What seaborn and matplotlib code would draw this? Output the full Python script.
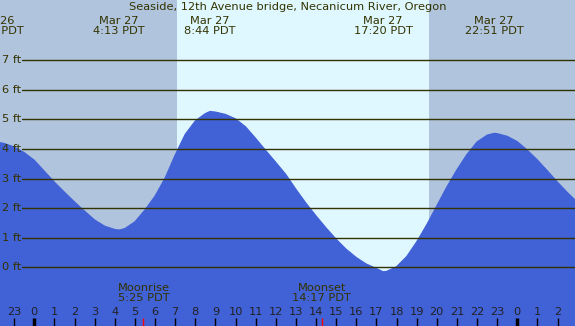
import numpy as np
import matplotlib
matplotlib.use("Agg")
import matplotlib.pyplot as plt
import seaborn as sns

# tide heights, hours since midnight Mar 27 (PDT)
hours = [-1.75, -1.5, -1.0, -0.5, 0.0, 0.5, 1.0, 1.5, 2.0, 2.5, 3.0, 3.5, 4.0, 4.22, 4.5,
         5.0, 5.5, 6.0, 6.5, 7.0, 7.5, 8.0, 8.5, 8.73, 9.0, 9.5, 10.0, 10.5, 11.0, 11.5,
         12.0, 12.5, 13.0, 13.5, 14.0, 14.5, 15.0, 15.5, 16.0, 16.5, 17.0, 17.33, 17.5,
         18.0, 18.5, 19.0, 19.5, 20.0, 20.5, 21.0, 21.5, 22.0, 22.5, 22.85, 23.0, 23.5,
         24.0, 24.5, 25.0, 25.5, 26.0, 26.5, 26.9]
height = [4.22, 4.19, 4.07, 3.88, 3.62, 3.25, 2.88, 2.54, 2.21, 1.90, 1.60, 1.39, 1.28, 1.26, 1.31,
          1.54, 1.94, 2.41, 3.02, 3.80, 4.50, 4.95, 5.20, 5.27, 5.25, 5.17, 5.02, 4.75, 4.36, 3.95,
          3.55, 3.14, 2.64, 2.17, 1.74, 1.33, 0.95, 0.61, 0.33, 0.11, -0.04, -0.15, -0.14,
          0.02, 0.36, 0.86, 1.44, 2.08, 2.72, 3.30, 3.82, 4.24, 4.47, 4.53, 4.52, 4.43,
          4.25, 3.96, 3.63, 3.26, 2.88, 2.52, 2.26]

# high / low tide labels
event_hours = [-1.98, 4.22, 8.73, 17.33, 22.85]
event_labels = ["Mar 26\n22:01 PDT", "Mar 27\n4:13 PDT", "Mar 27\n8:44 PDT",
                "Mar 27\n17:20 PDT", "Mar 27\n22:51 PDT"]

moon_hours = [5.42, 14.28]
moon_labels = ["Moonrise\n5:25 PDT", "Moonset\n14:17 PDT"]

sunrise, sunset = 7.08, 19.61
ft_levels = [0, 1, 2, 3, 4, 5, 6, 7]
tick_hours = list(range(-2, 27))
tick_labels = [str(h % 24) for h in tick_hours]

title = "Seaside, 12th Avenue bridge, Necanicum River, Oregon"

night = "#b0c4de"
day = "#dff7ff"
water = "#4161d7"
ink = "#333300"

sns.set_style("white")
plt.rcParams["font.family"] = ["DejaVu Sans"]

fig = plt.figure(figsize=(5.75, 3.26), dpi=100)
ax = fig.add_axes([0, 0, 1, 1])
x0, x1 = -34.3 / 20.125, (575 - 34.3) / 20.125
y0, y1 = -(326 - 267.3) / 29.571, 267.3 / 29.571
ax.set_xlim(x0, x1)
ax.set_ylim(y0, y1)
ax.axis("off")

ax.axvspan(x0, sunrise, color=night, lw=0, zorder=0)
ax.axvspan(sunrise, sunset, color=day, lw=0, zorder=0)
ax.axvspan(sunset, x1, color=night, lw=0, zorder=0)

ax.fill_between(hours, height, y0, color=water, lw=0, zorder=1)
sns.lineplot(x=hours, y=height, color=water, lw=0.8, ax=ax, zorder=1)

# foot grid
xl = x0 + 22 / 20.125
for f in ft_levels:
    ax.plot([xl, x1], [f, f], color=ink, lw=1.0, zorder=2)
    ax.text(x0 + 2 / 20.125, f, f"{f} ft", color=ink, fontsize=8.2,
            ha="left", va="center", zorder=3)

ax.text((x0 + x1) / 2, y1 - 7 / 29.571, title, color=ink, fontsize=8.2,
        ha="center", va="center")
for h, lab in zip(event_hours, event_labels):
    ax.text(h, y1 - 25.5 / 29.571, lab, color=ink, fontsize=8.2, ha="center",
            va="center", linespacing=1.0)
for h, lab in zip(moon_hours, moon_labels):
    ax.text(h, y0 + (326 - 293.3) / 29.571, lab, color=ink, fontsize=8.2,
            ha="center", va="center", linespacing=1.0)

# hour ticks along the bottom
for h, lab in zip(tick_hours, tick_labels):
    ax.text(h, y0 + (326 - 311.7) / 29.571, lab, color="#222222", fontsize=8.2,
            ha="center", va="center")
    w = 2.5 if h % 24 == 0 else 1.0
    ax.plot([h, h], [y0, y0 + 8 / 29.571], color="black", lw=w, zorder=3,
            solid_capstyle="butt")
for h in moon_hours:
    ax.plot([h, h], [y0, y0 + 8 / 29.571], color="red", lw=1.0, zorder=3,
            solid_capstyle="butt")

fig.savefig("out.png", dpi=100)
